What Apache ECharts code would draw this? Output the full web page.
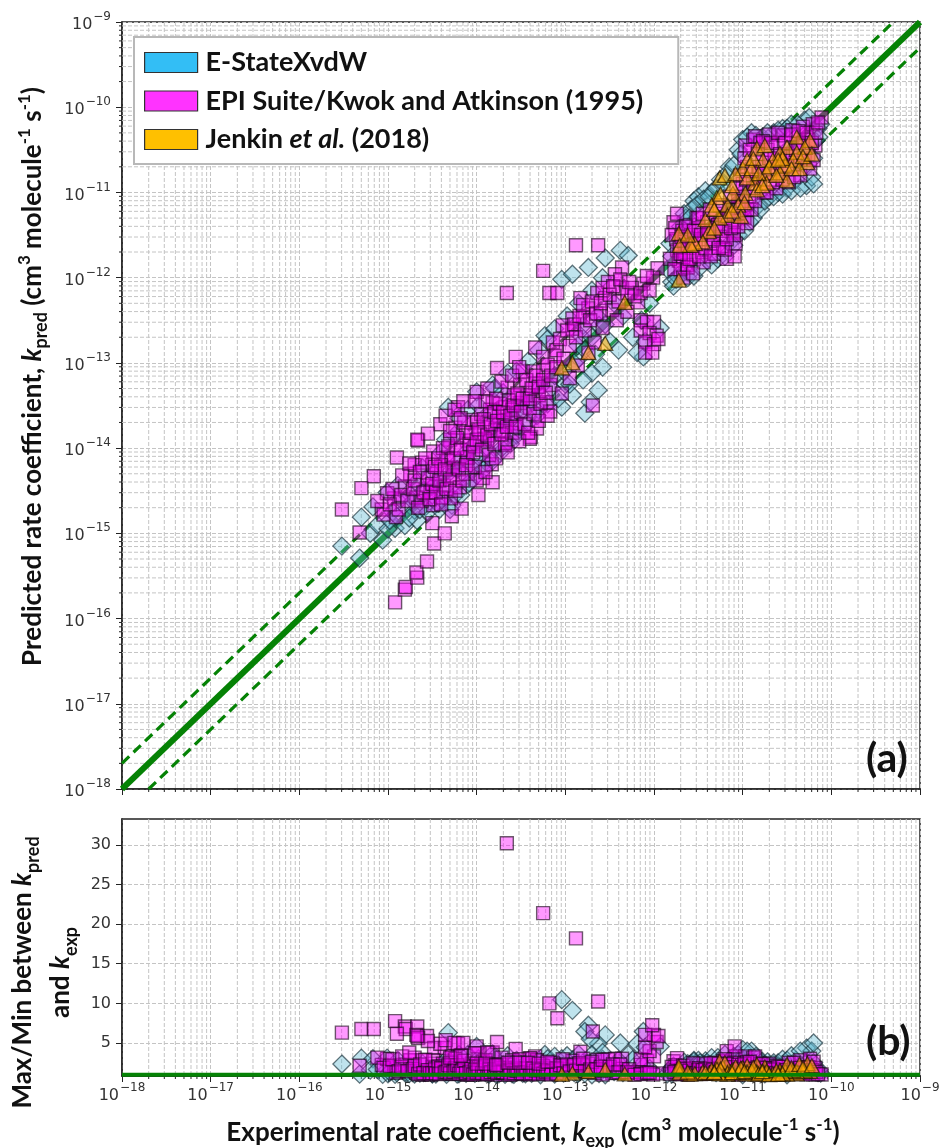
<!DOCTYPE html>
<html><head><meta charset="utf-8">
<style>html,body{margin:0;padding:0;background:#fff}#c{width:942px;height:1148px}</style>
<script src="https://cdn.jsdelivr.net/npm/echarts@6/dist/echarts.min.js"></script>
</head><body><div id="c"></div>
<script>
const diamondExp=[[-15.52,-15.15],[-15.32,-15.29],[-15.30,-14.81],[-15.17,-14.69],[-15.06,-15.08],[-14.92,-14.94],[-14.81,-14.91],[-14.67,-14.85],[-15.01,-14.52],[-14.79,-14.71],[-14.70,-14.73],[-14.58,-14.69],[-14.45,-14.64],[-14.28,-14.67],[-14.08,-14.41],[-13.94,-14.20],[-13.74,-14.06],[-13.59,-13.87],[-14.89,-14.44],[-14.61,-14.23],[-14.49,-14.3],[-14.32,-13.52],[-14.0,-13.34],[-13.82,-13.26],[-13.65,-13.12],[-13.23,-12.68],[-13.04,-12.02],[-12.92,-11.96],[-12.74,-11.88],[-12.55,-11.77],[-12.38,-11.68],[-12.29,-11.74],[-12.63,-13.32],[-12.58,-13.05],[-12.70,-13.12],[-12.78,-13.59],[-12.72,-13.46],[-13.04,-13.52],[-12.92,-13.38],[-12.80,-13.20],[-13.55,-13.85],[-13.88,-14.18],[-12.12,-12.93],[-12.19,-12.88],[-12.24,-12.70],[-12.14,-12.50],[-11.93,-12.59],[-12.80,-12.56],[-12.83,-12.68],[-12.64,-12.45],[-12.62,-12.56],[-14.5,-14.45],[-14.35,-14.5],[-14.2,-14.15],[-14.15,-14.3],[-14.02,-13.95],[-13.9,-14.0],[-13.75,-13.7],[-13.6,-13.65],[-13.45,-13.5],[-13.3,-13.55],[-13.15,-13.3],[-13.0,-13.25],[-12.85,-12.95],[-14.68,-14.4],[-14.75,-14.55],[-14.95,-14.75],[-14.4,-14.05],[-14.25,-13.85],[-13.85,-13.6],[-13.7,-13.35],[-12.5,-12.75],[-12.4,-12.85],[-12.05,-12.3],[-12.1,-12.75],[-11.85,-11.9],[-11.8,-12.05],[-11.78,-12.1],[-11.7,-11.95],[-11.55,-11.1],[-11.5,-11.05],[-11.42,-10.98],[-11.58,-11.2],[-11.64,-11.3],[-11.7,-11.4],[-11.35,-11.0],[-11.25,-10.85],[-11.15,-10.7],[-11.05,-10.5],[-11.0,-10.38],[-10.9,-10.3],[-10.78,-10.35],[-10.65,-10.3],[-10.55,-10.25],[-10.45,-10.2],[-10.3,-10.15],[-10.15,-10.25],[-10.18,-10.4],[-10.28,-10.7],[-10.28,-10.92],[-10.22,-10.82],[-10.4,-10.85],[-10.5,-10.95],[-10.6,-11.0],[-10.7,-11.05],[-10.82,-11.15],[-10.92,-11.35],[-11.05,-11.5],[-11.15,-11.6],[-11.4,-11.8],[-11.6,-11.95],[-11.72,-12.0],[-11.3,-11.4],[-11.0,-11.0],[-10.75,-10.7],[-10.5,-10.5],
[-15.2,-15.0],[-15.12,-14.9],[-15.0,-14.95],[-14.98,-14.85],[-14.9,-14.8],[-14.86,-14.6],[-14.76,-14.82],[-14.72,-14.62],[-14.64,-14.72],[-14.6,-14.5],[-14.55,-14.75],[-14.5,-14.55],[-14.46,-14.42],[-14.42,-14.72],[-14.38,-14.62],[-14.34,-14.32],[-14.3,-14.72],[-14.24,-14.55],[-14.22,-14.25],[-14.18,-14.55],[-14.12,-14.05],[-14.1,-14.42],[-14.05,-14.2],[-14.0,-14.32],[-13.98,-14.1],[-13.92,-14.25],[-13.86,-13.9],[-13.82,-14.15],[-13.78,-13.8],[-13.72,-14.0],[-13.68,-13.7],[-13.62,-13.95],[-13.58,-13.6],[-13.52,-13.78],[-13.48,-13.55],[-13.42,-13.7],[-13.38,-13.45],[-13.32,-13.62],[-13.28,-13.28],[-13.2,-13.48],[-13.12,-13.15],[-13.08,-13.42],[-13.02,-13.1],[-12.95,-13.25],[-12.9,-13.0],[-12.86,-12.8],[-12.78,-12.85],[-12.7,-12.7],[-12.66,-12.9],[-12.55,-12.55],[-12.45,-12.3],[-12.35,-12.45],[-14.35,-13.9],[-14.2,-13.65],[-14.1,-13.55],[-13.98,-13.5],[-13.8,-13.3],[-13.55,-13.1],[-13.42,-12.98],[-13.3,-12.85],[-13.2,-12.72],[-13.12,-12.6],[-12.98,-12.45],[-12.85,-12.3],[-12.7,-12.15],[-12.58,-12.0],
[-11.82,-11.6],[-11.8,-11.75],[-11.75,-12.02],[-11.68,-11.5],[-11.62,-12.0],[-11.66,-11.25],[-11.6,-11.3],[-11.55,-11.98],[-11.52,-11.15],[-11.48,-11.88],[-11.44,-11.08],[-11.38,-11.05],[-11.35,-11.85],[-11.3,-10.95],[-11.28,-11.78],[-11.22,-10.9],[-11.2,-11.75],[-11.18,-10.78],[-11.1,-10.68],[-11.1,-11.62],[-11.02,-10.55],[-10.98,-11.45],[-10.95,-10.35],[-10.88,-11.3],[-10.85,-10.33],[-10.8,-11.2],[-10.72,-10.3],[-10.75,-11.1],[-10.65,-11.05],[-10.6,-10.27],[-10.55,-11.02],[-10.5,-10.25],[-10.45,-10.98],[-10.35,-10.95],[-10.38,-10.2],[-10.25,-10.12],[-10.2,-10.9],[-10.12,-10.2],[-10.14,-10.35],[-10.2,-10.6]];
const squareExp=[[-14.92,-15.81],[-14.81,-15.66],[-14.80,-15.63],[-14.67,-15.52],[-14.68,-15.46],[-14.56,-15.33],[-14.48,-15.12],[-14.36,-15.00],[-14.50,-14.88],[-14.28,-14.80],[-14.17,-14.71],[-14.91,-14.81],[-15.32,-14.99],[-15.52,-14.72],[-15.30,-14.47],[-15.16,-14.33],[-14.90,-14.11],[-14.66,-13.91],[-15.07,-14.72],[-14.93,-14.59],[-15.01,-14.53],[-14.81,-14.45],[-14.68,-14.58],[-14.49,-14.67],[-14.29,-14.59],[-14.37,-14.44],[-14.56,-14.44],[-14.62,-14.17],[-14.49,-14.04],[-14.75,-14.30],[-14.45,-14.30],[-14.27,-14.32],[-14.10,-14.30],[-14.19,-14.46],[-13.98,-14.55],[-13.93,-14.35],[-13.82,-14.40],[-13.83,-14.19],[-13.68,-13.96],[-13.39,-13.87],[-14.10,-14.12],[-14.32,-14.14],[-13.88,-13.91],[-14.11,-13.91],[-14.30,-13.90],[-12.88,-11.62],[-12.63,-11.62],[-13.25,-11.92],[-13.66,-12.18],[-13.18,-12.18],[-13.09,-12.18],[-12.83,-12.24],[-11.96,-11.89],[-12.36,-11.88],[-12.44,-11.96],[-12.52,-12.05],[-12.36,-12.12],[-12.12,-12.07],[-12.01,-12.00],[-12.64,-12.18],[-12.55,-12.24],[-12.18,-12.29],[-12.25,-12.12],[-12.74,-12.36],[-12.47,-12.38],[-12.92,-12.48],[-13.03,-12.56],[-12.80,-12.46],[-12.58,-12.59],[-13.14,-12.76],[-13.34,-12.82],[-12.67,-12.76],[-12.74,-12.88],[-13.25,-12.93],[-13.12,-12.92],[-13.56,-12.93],[-13.77,-13.06],[-13.48,-13.10],[-13.36,-13.10],[-13.25,-13.09],[-12.86,-13.03],[-12.95,-13.18],[-13.65,-13.29],[-13.51,-13.26],[-13.34,-13.24],[-13.17,-13.26],[-13.04,-13.36],[-14.00,-13.34],[-13.82,-13.47],[-13.68,-13.52],[-13.51,-13.47],[-13.40,-13.53],[-13.21,-13.46],[-13.17,-13.57],[-12.69,-13.50],[-14.21,-13.52],[-14.41,-13.72],[-14.24,-13.76],[-14.05,-13.67],[-13.88,-13.76],[-13.68,-13.67],[-13.55,-13.71],[-13.79,-13.79],[-13.91,-13.89],[-13.32,-13.77],[-13.40,-13.89],[-13.68,-13.94],[-14.55,-13.83],[-14.67,-13.90],[-14.33,-14.11],[-14.11,-14.11],[-14.27,-14.23],[-13.95,-13.6],[-13.85,-13.55],[-13.75,-13.62],[-13.6,-13.55],[-13.58,-13.38],[-13.42,-13.38],[-13.3,-13.38],[-14.0,-13.7],[-14.12,-13.82],[-14.22,-14.0],[-14.4,-14.2],[-14.02,-13.98],[-13.96,-13.83],[-13.7,-13.8],[-13.6,-13.82],[-14.38,-14.0],[-14.5,-14.2],[-14.7,-14.2],[-14.62,-14.62],[-14.4,-14.58],[-14.52,-14.52],[-12.15,-12.5],[-12.08,-12.52],[-12.0,-12.52],[-12.15,-12.62],[-12.05,-12.65],[-11.97,-12.68],[-12.1,-12.75],[-12.0,-12.78],[-11.95,-12.72],[-12.1,-12.88],[-12.02,-12.88],[-12.92,-12.6],[-12.6,-12.42],[-12.42,-12.5],[-12.3,-12.4],
[-15.12,-14.62],[-15.05,-14.78],[-14.98,-14.66],[-14.95,-14.48],[-14.88,-14.72],[-14.85,-14.55],[-14.84,-14.32],[-14.78,-14.62],[-14.76,-14.18],[-14.72,-14.48],[-14.7,-14.38],[-14.66,-14.7],[-14.64,-14.28],[-14.6,-14.52],[-14.58,-14.12],[-14.55,-14.35],[-14.53,-14.6],[-14.5,-14.42],[-14.47,-14.22],[-14.46,-14.52],[-14.43,-14.12],[-14.42,-14.38],[-14.4,-14.66],[-14.36,-14.25],[-14.34,-14.48],[-14.32,-13.98],[-14.3,-14.37],[-14.26,-14.12],[-14.24,-14.5],[-14.22,-13.88],[-14.2,-14.25],[-14.18,-14.02],[-14.16,-14.38],[-14.14,-13.7],[-14.12,-14.2],[-14.08,-13.95],[-14.06,-13.82],[-14.04,-14.05],[-14.02,-14.22],[-14.0,-13.9],[-13.98,-13.78],[-13.94,-14.02],[-13.92,-13.66],[-13.9,-13.45],[-13.88,-13.85],[-13.86,-14.08],[-13.84,-13.72],[-13.8,-13.58],[-13.8,-13.95],[-13.77,-13.68],[-13.74,-13.48],[-13.72,-13.84],[-13.7,-13.58],[-13.66,-13.75],[-13.64,-13.44],[-13.62,-13.62],[-13.58,-13.5],[-13.56,-13.75],[-13.54,-13.36],[-13.5,-13.58],[-13.48,-13.42],[-13.46,-13.72],[-13.44,-13.2],[-13.4,-13.42],[-13.38,-13.3],[-13.36,-13.6],[-13.33,-13.15],[-13.3,-13.28],[-13.28,-13.48],[-13.25,-13.2],[-13.22,-13.35],[-13.2,-13.02],[-13.16,-13.15],[-13.1,-12.85],[-13.1,-13.05],[-13.06,-12.72],[-13.02,-12.95],[-12.98,-12.62],[-12.95,-12.8],[-12.9,-12.55],[-12.88,-12.7],[-12.84,-12.45],[-12.8,-12.32],[-12.78,-12.62],[-12.72,-12.5],[-12.7,-12.28],[-12.65,-12.42],[-12.6,-12.3],[-12.58,-12.12],[-12.5,-12.2],[-12.46,-12.1],[-12.4,-12.28],[-12.38,-12.02],[-12.3,-12.18],[-12.28,-12.05],[-12.22,-12.22],[-12.15,-12.18],[-12.08,-11.98],[-12.05,-12.15],
[-14.35,-13.62],[-14.25,-13.55],[-14.15,-13.45],[-14.3,-13.8],[-14.18,-13.65],[-14.02,-13.45],[-13.88,-13.3],[-13.72,-13.22],[-13.6,-13.15],[-13.78,-13.42],[-13.52,-13.05],[-14.0,-14.38],[-13.9,-14.28],[-13.78,-14.12],[-13.65,-14.05],[-13.52,-13.92],[-13.42,-13.82],[-13.3,-13.68],[-13.2,-13.62],
[-11.78,-11.35],[-11.76,-11.42],[-11.75,-11.55],[-11.74,-11.68],[-11.72,-11.8],[-11.7,-11.9],[-11.68,-11.45],[-11.66,-11.58],[-11.65,-11.72],[-11.63,-11.85],[-11.6,-11.38],[-11.58,-11.5],[-11.57,-11.65],[-11.55,-11.78],[-11.52,-11.3],[-11.5,-11.42],[-11.48,-11.55],[-11.46,-11.7],[-11.44,-11.82],[-11.4,-11.35],[-11.38,-11.48],[-11.35,-11.6],[-11.32,-11.72],[-11.3,-11.25],[-11.28,-11.38],[-11.25,-11.52],[-11.22,-11.65],[-11.18,-11.78],[-11.15,-11.2],[-11.12,-11.33],[-11.1,-11.47],[-11.08,-11.6],[-11.05,-11.05],[-11.02,-11.18],[-11.0,-10.9],[-10.98,-11.3],[-10.97,-10.45],[-10.95,-10.7],[-10.93,-11.05],[-10.9,-11.2],[-10.88,-10.38],[-10.86,-10.34],[-10.84,-10.85],[-10.8,-10.42],[-10.78,-10.65],[-10.76,-11.0],[-10.72,-10.5],[-10.7,-10.32],[-10.68,-10.8],[-10.64,-10.6],[-10.62,-10.95],[-10.6,-10.42],[-10.56,-10.72],[-10.54,-10.33],[-10.5,-10.55],[-10.48,-10.88],[-10.44,-10.27],[-10.42,-10.68],[-10.38,-10.42],[-10.35,-10.8],[-10.32,-10.23],[-10.3,-10.6],[-10.26,-10.38],[-10.24,-10.72],[-10.21,-10.2],[-10.18,-10.45],[-10.11,-10.12],[-11.09,-11.75],[-11.2,-11.67],[-11.1,-11.5],[-10.95,-11.36],[-11.67,-11.76],[-11.62,-11.88],[-11.71,-11.64],
[-11.82,-11.78],[-11.8,-11.5],[-11.77,-11.9],[-11.74,-11.25],[-11.7,-11.72],[-11.69,-11.52],[-11.67,-12.0],[-11.64,-11.4],[-11.62,-11.62],[-11.6,-11.78],[-11.56,-11.95],[-11.55,-11.45],[-11.53,-11.6],[-11.5,-11.3],[-11.49,-11.75],[-11.47,-11.5],[-11.45,-11.25],[-11.42,-11.65],[-11.4,-11.45],[-11.37,-11.2],[-11.36,-11.75],[-11.33,-11.55],[-11.3,-11.42],[-11.27,-11.65],[-11.26,-11.15],[-11.23,-11.45],[-11.2,-11.3],[-11.18,-11.55],[-11.14,-11.05],[-11.13,-11.42],[-11.1,-11.25],[-11.07,-10.95],[-11.05,-11.4],[-11.03,-10.8],[-11.0,-11.1],[-10.98,-10.6],[-10.96,-10.85],[-10.95,-11.2],[-10.92,-10.5],[-10.9,-10.75],[-10.88,-10.95],[-10.86,-11.1],[-10.83,-10.55],[-10.82,-10.7],[-10.8,-10.9],[-10.77,-10.4],[-10.75,-10.78],[-10.73,-11.0],[-10.7,-10.6],[-10.68,-10.42],[-10.66,-10.88],[-10.62,-10.7],[-10.6,-10.3],[-10.58,-10.55],[-10.55,-10.85],[-10.52,-10.42],[-10.5,-10.7],[-10.46,-10.58],[-10.45,-10.32],[-10.42,-10.82],[-10.4,-10.5],[-10.37,-10.28],[-10.35,-10.62],[-10.32,-10.42],[-10.28,-10.3],[-10.26,-10.55],[-10.22,-10.42],[-10.2,-10.62],[-10.17,-10.3],[-10.15,-10.18]];
const triangleExp=[[-12.33,-12.29],[-12.55,-12.77],[-12.74,-12.88],[-12.92,-13.00],[-13.04,-13.06],[-11.72,-11.48],[-11.38,-11.46],[-11.45,-11.58],[-11.54,-11.60],[-11.59,-11.62],[-11.71,-11.62],[-11.72,-12.03],[-11.26,-10.83],[-11.20,-10.80],[-11.00,-10.72],[-10.95,-10.62],[-10.84,-10.48],[-10.75,-10.45],[-10.77,-10.62],[-10.39,-10.35],[-10.24,-10.39],[-10.30,-10.47],[-10.50,-10.47],[-10.58,-10.54],[-10.39,-10.53],[-10.27,-10.65],[-10.43,-10.62],[-10.52,-10.68],[-10.66,-10.62],[-10.73,-10.77],[-10.86,-10.89],[-10.97,-11.01],[-10.73,-10.89],[-10.95,-10.83],[-11.11,-11.01],[-11.29,-11.06],[-11.35,-11.15],[-11.17,-11.15],[-11.05,-11.15],[-11.17,-11.27],[-11.26,-11.30],[-10.58,-10.77],[-10.50,-10.86],[-10.84,-10.97],
[-11.62,-11.5],[-11.42,-11.32],[-11.32,-11.2],[-11.25,-11.02],[-11.12,-10.92],[-11.08,-10.78],[-11.02,-11.28],[-10.9,-10.72],[-10.88,-10.6],[-10.82,-10.78],[-10.7,-10.7],[-10.62,-10.8],[-10.55,-10.6],[-10.45,-10.72],[-10.36,-10.72],[-10.32,-10.58],[-10.22,-10.55],[-10.6,-10.62],[-11.32,-11.42],[-11.12,-11.22],[-10.98,-11.12],[-10.78,-10.92]];
const minorMultipliers=[2,3,4,5,6,7,8,9];
const decades=[-18,-17,-16,-15,-14,-13,-12,-11,-10];
const ratioTicks=[5,10,15,20,25,30];
const legendNames=['E-StateXvdW','EPI Suite/Kwok and Atkinson (1995)','Jenkin et al. (2018)'];
const legendColors=['#33BEF5','#FF33FF','#FFC000'];

const toK=p=>[Math.pow(10,p[0]),Math.pow(10,p[1])];
const toRatio=p=>[Math.pow(10,p[0]),Math.pow(10,Math.abs(p[1]-p[0]))];
const minors=[];decades.forEach(d=>minorMultipliers.forEach(m=>minors.push(m*Math.pow(10,d))));
const GREEN='#058205', GRID='#c4c4c4';
const fmtLog=v=>'{b|10}{s|\u2212'+Math.abs(Math.round(Math.log10(v)))+'}';
const tickRich={b:{fontSize:16,color:'#333',lineHeight:22,verticalAlign:'bottom',fontFamily:'DejaVu Sans'},s:{fontSize:12,color:'#333',verticalAlign:'top',lineHeight:22,fontFamily:'DejaVu Sans',padding:[0,0,0,1]}};
const nameRich=(fs,lh)=>({i:{fontStyle:'italic',fontWeight:'bold',fontSize:fs,fontFamily:'Lato',color:'#111',lineHeight:lh},sub:{fontWeight:'bold',fontSize:fs-8,fontFamily:'Lato',color:'#111',verticalAlign:'bottom',lineHeight:lh},sup:{fontWeight:'bold',fontSize:fs-9,fontFamily:'Lato',color:'#111',verticalAlign:'top',lineHeight:lh},n:{fontWeight:'bold',fontSize:fs,fontFamily:'Lato',color:'#111',lineHeight:lh}});
const splitDash={show:true,lineStyle:{type:[4,2],color:GRID,width:1}};
const logAxis=(grid,extra)=>Object.assign({type:'log',logBase:10,min:1e-18,max:1e-9,gridIndex:grid,splitNumber:9,
  axisLine:{show:true,onZero:false,lineStyle:{color:'#222',width:1.5}},axisTick:{show:true,length:6,lineStyle:{color:'#222',width:1}},
  splitLine:splitDash,minorTick:{show:false},minorSplitLine:{show:false}},extra);
const minorX=(xi,yi,anyY)=>({type:'custom',xAxisIndex:xi,yAxisIndex:yi,silent:true,z:1,clip:false,data:minors.map(v=>[v,anyY]),encode:{x:0,y:1},
  renderItem:(p,api)=>{const c=p.coordSys,x=api.coord([api.value(0),anyY])[0],b=c.y+c.height;
    return {type:'group',children:[{type:'line',shape:{x1:x,y1:c.y,x2:x,y2:b},style:{stroke:GRID,lineWidth:1,lineDash:[4,2]}},{type:'line',shape:{x1:x,y1:b,x2:x,y2:b+3},style:{stroke:'#222',lineWidth:1}}]};}});
const minorY=(xi,yi,anyX)=>({type:'custom',xAxisIndex:xi,yAxisIndex:yi,silent:true,z:1,clip:false,data:minors.map(v=>[anyX,v]),encode:{x:0,y:1},
  renderItem:(p,api)=>{const c=p.coordSys,y=api.coord([anyX,api.value(1)])[1];
    return {type:'group',children:[{type:'line',shape:{x1:c.x,y1:y,x2:c.x+c.width,y2:y},style:{stroke:GRID,lineWidth:1,lineDash:[4,2]}},{type:'line',shape:{x1:c.x,y1:y,x2:c.x-3,y2:y},style:{stroke:'#222',lineWidth:1}}]};}});
const line=(xi,yi,data,w,dash,z)=>({type:'line',xAxisIndex:xi,yAxisIndex:yi,data,symbol:'none',silent:true,z:z||2,animation:false,lineStyle:{color:GREEN,width:w,type:dash||'solid'}});
const styles={
 d:{color:'rgba(95,185,210,0.5)',borderColor:'rgba(15,40,50,0.8)',borderWidth:1.3},
 s:{color:'rgba(255,0,255,0.5)',borderColor:'rgba(25,10,25,0.8)',borderWidth:1.4},
 t:{color:'rgba(255,170,0,0.72)',borderColor:'rgba(30,20,0,0.85)',borderWidth:1.3}};
const scatter=(name,xi,yi,data,sym,size,st,z)=>({name,type:'scatter',xAxisIndex:xi,yAxisIndex:yi,data,symbol:sym,symbolSize:size,itemStyle:st,z,animation:false,silent:true,clip:true});

const option={
 backgroundColor:'#fff',animation:false,
 grid:[{left:122,top:22,width:798,height:767,show:true,borderColor:'#222',borderWidth:1.5,backgroundColor:'transparent',outerBoundsMode:'none'},
       {left:122,top:819,width:798,height:257,show:true,borderColor:'#222',borderWidth:1.5,backgroundColor:'transparent',outerBoundsMode:'none'}],
 xAxis:[logAxis(0,{axisLabel:{show:false}}),
        logAxis(1,{axisLabel:{show:true,formatter:fmtLog,rich:tickRich,margin:6},
          name:'{n|Experimental rate coefficient, }{i|k}{sub|exp}{n| (cm}{sup|3}{n| molecule}{sup|-1}{n| s}{sup|-1}{n|)}',nameLocation:'middle',nameGap:40,nameTextStyle:{rich:nameRich(26,34),padding:[0,0,0,24]}})],
 yAxis:[logAxis(0,{axisLabel:{show:true,formatter:fmtLog,rich:tickRich,margin:11},
          name:'{n|Predicted rate coefficient, }{i|k}{sub|pred}{n| (cm}{sup|3}{n| molecule}{sup|-1}{n| s}{sup|-1}{n|)}',nameLocation:'middle',nameRotate:90,nameGap:72,nameTextStyle:{rich:nameRich(26,34),padding:[0,0,0,58]}}),
        {type:'value',gridIndex:1,min:0.84,max:33.25,
          axisLine:{show:true,onZero:false,lineStyle:{color:'#222',width:1.5}},
          axisTick:{show:true,length:6,customValues:ratioTicks,lineStyle:{color:'#222',width:1}},
          axisLabel:{show:true,customValues:ratioTicks,fontSize:16,color:'#333',fontFamily:'DejaVu Sans',margin:11},
          splitLine:splitDash,
          name:'{n|Max/Min between }{i|k}{sub|pred}\n{n|and }{i|k}{sub|exp}',nameLocation:'middle',nameRotate:90,nameGap:42,nameTextStyle:{rich:nameRich(26,38),align:'center',padding:[0,50,0,0]}}],
 legend:{show:true,orient:'vertical',left:134,top:37,padding:[12,35,11,10],itemGap:11.5,itemWidth:53,itemHeight:20,
   backgroundColor:'#fff',borderColor:'#b8b8b8',borderWidth:2,borderRadius:0,z:20,selectedMode:false,
   data:legendNames.map((n,i)=>({name:n,icon:'rect',itemStyle:{color:legendColors[i],borderColor:'#333',borderWidth:1.2,opacity:1}})),
   formatter:n=>n.indexOf('Jenkin')===0?'{t|Jenkin }{it|et al.}{t| (2018)}':'{t|'+n+'}',
   textStyle:{padding:[0,0,0,3],rich:{t:{fontSize:27,fontWeight:'bold',fontFamily:'Lato',color:'#111',lineHeight:20},it:{fontSize:27,fontWeight:'bold',fontStyle:'italic',fontFamily:'Lato',color:'#111',lineHeight:20}}}},
 graphic:[{type:'text',left:866,top:738,z:30,style:{text:'(a)',font:'bold 41px Lato',fill:'#111'}},
          {type:'text',left:866,top:1021,z:30,style:{text:'(b)',font:'bold 41px Lato',fill:'#111'}}],
 series:[
  minorX(0,0,1e-12),minorY(0,0,1e-12),minorX(1,1,5),
  line(0,0,[[1e-18,1e-18],[1e-9,1e-9]],6),
  line(0,0,[[1e-18,2e-18],[5e-10,1e-9]],3.2,[10,6]),
  line(0,0,[[2e-18,1e-18],[1e-9,5e-10]],3.2,[10,6]),
  line(1,1,[[1e-18,1],[1e-9,1]],4,null,9),
  scatter(legendNames[0],0,0,diamondExp.map(toK),'diamond',18,styles.d,5),
  scatter(legendNames[1],0,0,squareExp.map(toK),'rect',13,styles.s,6),
  scatter(legendNames[2],0,0,triangleExp.map(toK),'triangle',[15,14],styles.t,7),
  scatter(legendNames[0],1,1,diamondExp.map(toRatio),'diamond',18,styles.d,5),
  scatter(legendNames[1],1,1,squareExp.map(toRatio),'rect',13,styles.s,6),
  scatter(legendNames[2],1,1,triangleExp.map(toRatio),'triangle',[15,14],styles.t,7)
 ]};
const chart=echarts.init(document.getElementById('c'),null,{renderer:'canvas'});
chart.setOption(option);
</script></body></html>
